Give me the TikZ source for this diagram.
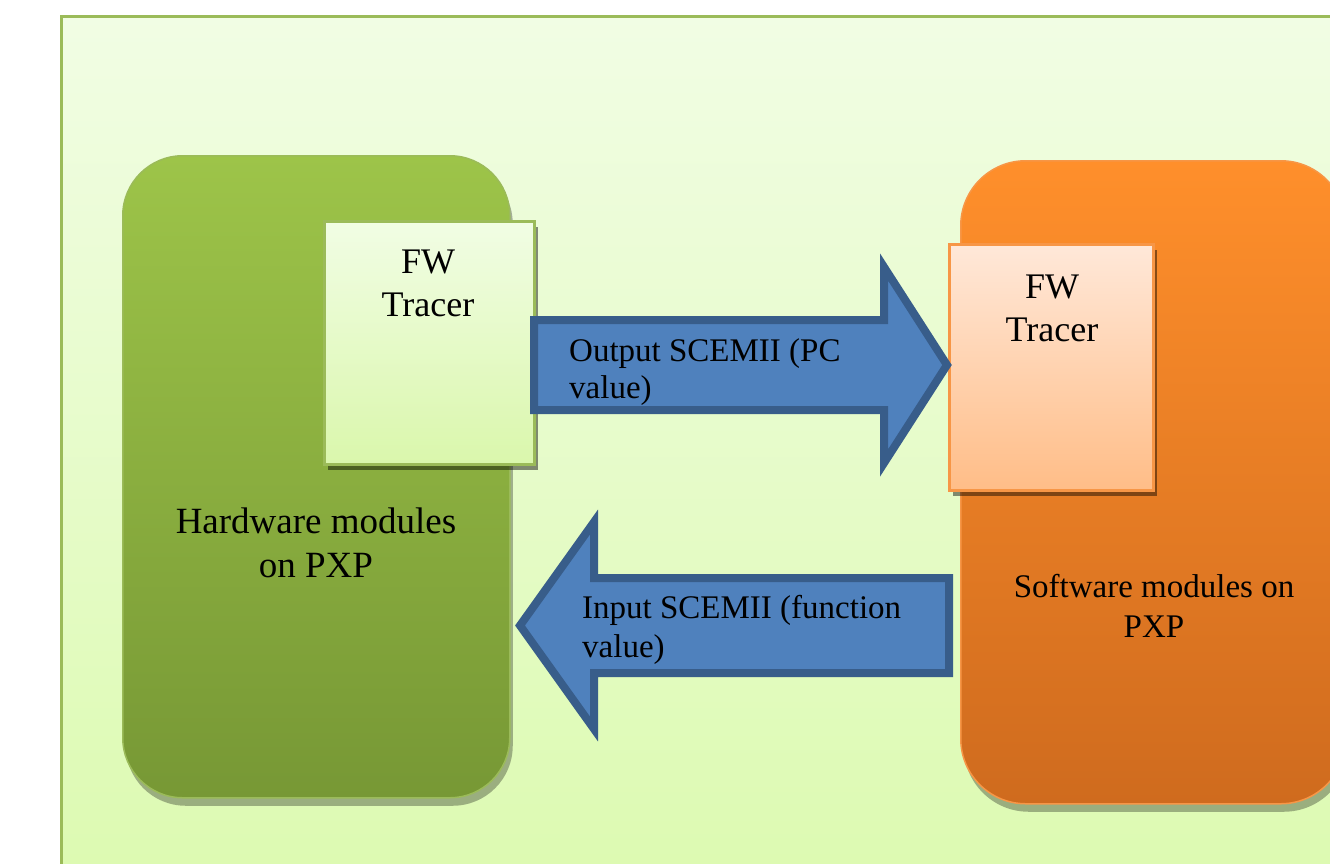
\documentclass[tikz,border=0pt]{standalone}
\usepackage{fontspec}
\setmainfont{Liberation Serif}
\usetikzlibrary{shadows}
\definecolor{framebd}{HTML}{9BBB59}
\definecolor{frametop}{HTML}{F1FDE4}
\definecolor{framebot}{HTML}{DCFAB0}
\definecolor{hwtop}{HTML}{9DC449}
\definecolor{hwbot}{HTML}{779835}
\definecolor{hwbd}{HTML}{9BBB59}
\definecolor{tltop}{HTML}{F1FDE4}
\definecolor{tlbot}{HTML}{DAF7AC}
\definecolor{swtop}{HTML}{FF8F2B}
\definecolor{swbot}{HTML}{CF6B1E}
\definecolor{swbd}{HTML}{F79646}
\definecolor{trtop}{HTML}{FFE8D9}
\definecolor{trbot}{HTML}{FFBD87}
\definecolor{arrfill}{HTML}{4F81BD}
\definecolor{arrbd}{HTML}{385D8A}
\begin{document}
\begin{tikzpicture}[x=1pt,y=-1pt,
  framebox/.style={draw=framebd,line width=2.5pt,top color=frametop,bottom color=framebot,
    rectangle,anchor=north west,inner sep=0pt},
  bigbox/.style={rectangle,rounded corners=60pt,anchor=north west,inner sep=0pt,line width=1.5pt,
    drop shadow={shadow xshift=3pt,shadow yshift=-8pt,fill=black,opacity=0.3}},
  tracerbox/.style={rectangle,anchor=north west,inner sep=0pt,line width=3pt,
    drop shadow={shadow xshift=3pt,shadow yshift=-5pt,fill=black,opacity=0.45}},
  blockarrow/.style={draw=arrbd,fill=arrfill,line width=8pt,line join=miter},
  lbl/.style={align=center,inner sep=0pt,text=black},
  lbll/.style={align=left,inner sep=0pt,text=black,anchor=west}]
\useasboundingbox (0,0) rectangle (1330,863);
\fill[white] (0,0) rectangle (1330,863);
\node[framebox,minimum width=1300pt,minimum height=880pt] (frame) at (60,15) {};
% hardware
\node[bigbox,draw=hwbd,top color=hwtop,bottom color=hwbot,minimum width=387pt,minimum height=642pt] (hw) at (122,155) {};
% software
\node[bigbox,draw=swbd,top color=swtop,bottom color=swbot,minimum width=385pt,minimum height=643pt,rounded corners=65pt] (sw) at (960,160) {};
% tracers
\node[tracerbox,draw=framebd,top color=tltop,bottom color=tlbot,minimum width=210pt,minimum height=243pt] (trl) at (323,220) {};
\node[tracerbox,draw=swbd,top color=trtop,bottom color=trbot,minimum width=204pt,minimum height=246pt] (trr) at (948,243) {};
% block arrows
\coordinate (outtail) at (534,365);
\coordinate (outtip) at (947,365);
\draw[blockarrow] (outtail |- 0,320) -- (884,320) -- (884,267) -- (outtip)
  -- (884,463) -- (884,410) -- (outtail |- 0,410) -- cycle;
\coordinate (intail) at (949,625.5);
\coordinate (intip) at (520,625.5);
\draw[blockarrow] (intail |- 0,578) -- (594,578) -- (594,522) -- (intip)
  -- (594,729) -- (594,673) -- (intail |- 0,673) -- cycle;
% texts
\node[lbl,font=\fontsize{36pt}{43pt}\selectfont] (trltext) at (428,283) {FW\\Tracer};
\node[lbl,font=\fontsize{36pt}{43pt}\selectfont] (trrtext) at (1052,308) {FW\\Tracer};
\node[lbll,font=\fontsize{33pt}{37pt}\selectfont] (outtext) at (569,372) {Output SCEMII (PC\\value)};
\node[lbll,font=\fontsize{33pt}{39pt}\selectfont] (intext) at (582,630) {Input SCEMII (function\\value)};
\node[lbl,font=\fontsize{37pt}{44pt}\selectfont] (hwtext) at (316,543) {Hardware modules\\on PXP};
\node[lbl,font=\fontsize{33pt}{40pt}\selectfont] (swtext) at (1154,606) {Software modules on\\PXP};
\end{tikzpicture}
\end{document}
